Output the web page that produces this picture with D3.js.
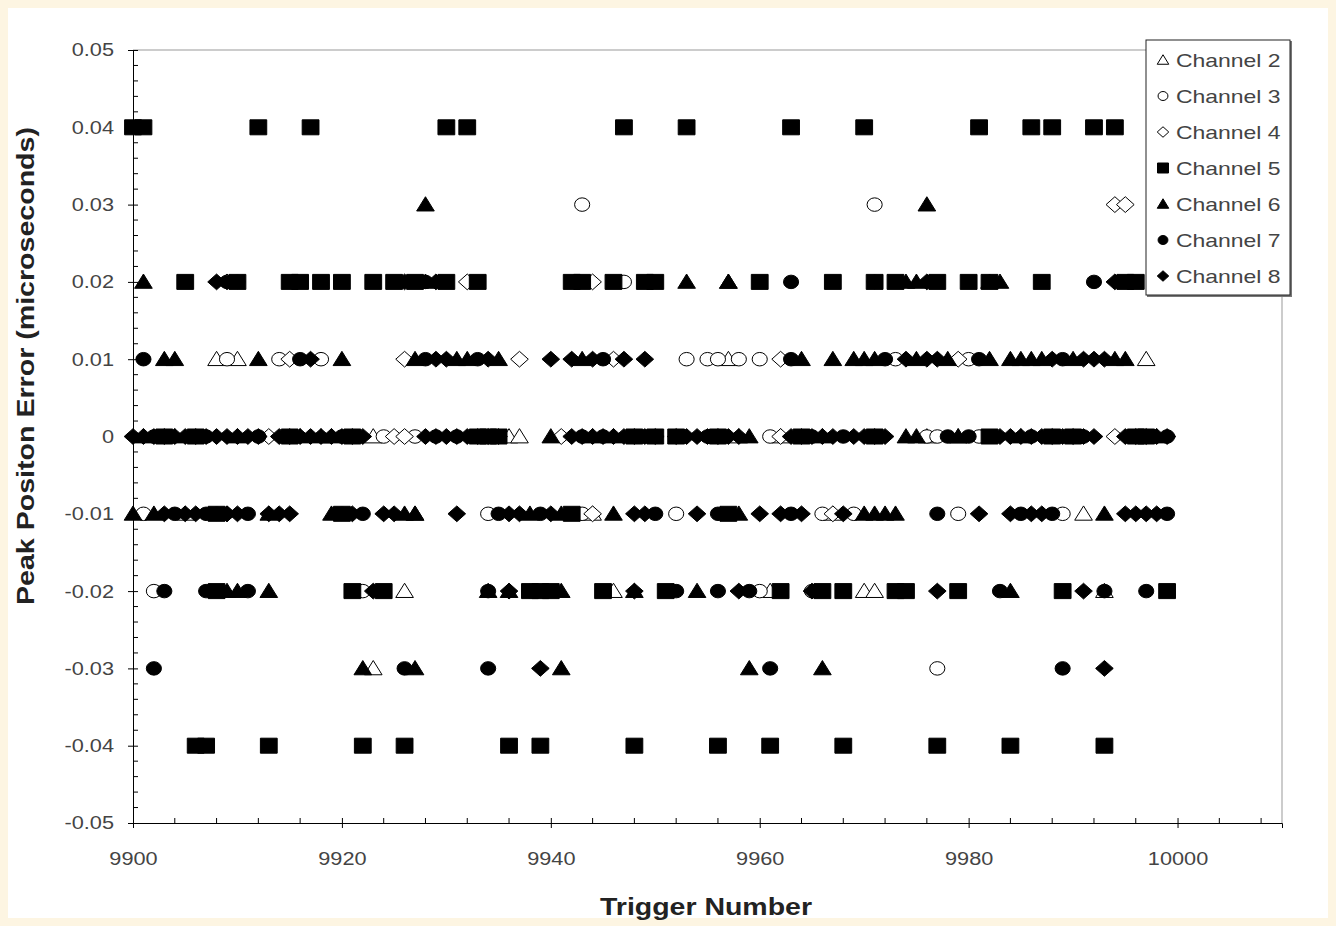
<!DOCTYPE html>
<html><head><meta charset="utf-8">
<script src="https://cdn.jsdelivr.net/npm/d3@7"></script>
<style>
html,body{margin:0;padding:0;background:#fdf5e2;}
svg{display:block;}
</style></head>
<body>
<svg id="chart" width="1336" height="926"></svg>
<script>
// ---------- DATA ----------
const xTicks = [9900, 9920, 9940, 9960, 9980, 10000];
const yTicks = [0.05, 0.04, 0.03, 0.02, 0.01, 0, -0.01, -0.02, -0.03, -0.04, -0.05];
const yTickLabels = ["0.05","0.04","0.03","0.02","0.01","0","-0.01","-0.02","-0.03","-0.04","-0.05"];
const seriesNames = ["Channel 2","Channel 3","Channel 4","Channel 5","Channel 6","Channel 7","Channel 8"];

// each channel: [value, [trigger numbers]]
const ch2 = [
  [0.02, [9957]],
  [0.01, [9908, 9910, 9957, 9997]],
  [0, [9923, 9936, 9937, 9958, 9962, 9976, 9979]],
  [-0.01, [9905, 9927, 9944, 9967, 9991]],
  [-0.02, [9926, 9946, 9961, 9970, 9971, 9993]],
  [-0.03, [9923]]
];
const ch3 = [
  [0.03, [9943, 9971]],
  [0.02, [9910, 9947]],
  [0.01, [9909, 9914, 9918, 9953, 9955, 9956, 9958, 9960, 9973, 9980]],
  [0, [9924, 9927, 9961, 9976, 9977, 9981]],
  [-0.01, [9901, 9908, 9920, 9934, 9943, 9952, 9966, 9969, 9979, 9989]],
  [-0.02, [9902, 9922, 9960, 9965]],
  [-0.03, [9977]]
];
const ch4 = [
  [0.03, [9994, 9995]],
  [0.02, [9909, 9932, 9944]],
  [0.01, [9915, 9926, 9937, 9946, 9962, 9979]],
  [0, [9913, 9925, 9926, 9941, 9962, 9994]],
  [-0.01, [9909, 9944, 9967]]
];
const ch5 = [
  [0.04, [9900, 9901, 9912, 9917, 9930, 9932, 9947, 9953, 9963, 9970, 9981, 9986, 9988, 9992, 9994]],
  [0.02, [9905, 9910, 9915, 9916, 9918, 9920, 9923, 9925, 9927, 9930, 9933, 9942, 9943, 9946, 9949, 9950, 9960, 9967, 9971, 9973, 9977, 9980, 9982, 9987, 9995, 9996]],
  [0, [9903, 9906, 9915, 9921, 9933, 9934, 9935, 9948, 9950, 9952, 9956, 9964, 9971, 9982, 9988, 9990, 9996, 9997]],
  [-0.01, [9908, 9920, 9942, 9957]],
  [-0.02, [9908, 9921, 9924, 9938, 9939, 9940, 9945, 9951, 9962, 9966, 9968, 9973, 9974, 9979, 9989, 9999]],
  [-0.04, [9906, 9907, 9913, 9922, 9926, 9936, 9939, 9948, 9956, 9961, 9968, 9977, 9984, 9993]]
];
const ch6 = [
  [0.03, [9928, 9976]],
  [0.02, [9901, 9928, 9953, 9957, 9974, 9975, 9982, 9983]],
  [0.01, [9903, 9904, 9912, 9920, 9927, 9931, 9932, 9935, 9943, 9964, 9967, 9969, 9970, 9971, 9975, 9978, 9982, 9984, 9985, 9986, 9987, 9990, 9994, 9995]],
  [0, [9901, 9904, 9910, 9916, 9918, 9919, 9940, 9944, 9946, 9959, 9966, 9974, 9975, 9979, 9985, 9998]],
  [-0.01, [9900, 9902, 9913, 9919, 9926, 9927, 9938, 9941, 9946, 9958, 9970, 9971, 9972, 9973, 9993]],
  [-0.02, [9909, 9910, 9913, 9934, 9936, 9941, 9948, 9954, 9984]],
  [-0.03, [9922, 9927, 9941, 9959, 9966]]
];
const ch7 = [
  [0.02, [9909, 9928, 9963, 9971, 9992]],
  [0.01, [9901, 9916, 9928, 9933, 9945, 9963, 9972, 9981, 9989]],
  [0, [9902, 9907, 9912, 9920, 9929, 9931, 9943, 9945, 9949, 9955, 9965, 9968, 9978, 9980, 9986, 9991, 9999]],
  [-0.01, [9904, 9907, 9911, 9922, 9935, 9939, 9950, 9956, 9963, 9977, 9985, 9988, 9999]],
  [-0.02, [9903, 9907, 9911, 9934, 9938, 9952, 9956, 9959, 9983, 9993, 9997]],
  [-0.03, [9902, 9926, 9934, 9961, 9989]]
];
const ch8 = [
  [0.02, [9908, 9926, 9929, 9976, 9994]],
  [0.01, [9917, 9929, 9930, 9934, 9940, 9942, 9944, 9947, 9949, 9974, 9976, 9977, 9988, 9991, 9992, 9993]],
  [0, [9900, 9901, 9902, 9903, 9904, 9905, 9906, 9907, 9908, 9909, 9910, 9911, 9912, 9914, 9915, 9916, 9917, 9918, 9919, 9920, 9921, 9922,
       9928, 9929, 9930, 9931, 9932, 9933, 9934, 9935, 9942, 9943, 9944, 9945, 9946, 9947, 9948, 9949, 9950,
       9952, 9953, 9954, 9955, 9956, 9957, 9958, 9963, 9964, 9965, 9966, 9967, 9969, 9970, 9971, 9972,
       9983, 9984, 9985, 9986, 9987, 9988, 9989, 9990, 9991, 9992, 9995, 9996, 9997, 9998, 9999]],
  [-0.01, [9903, 9905, 9906, 9909, 9910, 9913, 9914, 9915, 9921, 9924, 9925, 9931, 9936, 9937, 9940, 9948, 9949, 9954, 9960, 9962, 9964, 9968, 9981, 9984, 9986, 9987, 9995, 9996, 9997, 9998]],
  [-0.02, [9923, 9936, 9948, 9958, 9965, 9977, 9991]],
  [-0.03, [9939, 9993]]
];
const channels = [ch2, ch3, ch4, ch5, ch6, ch7, ch8];
const markerShapes = ["triangle","circle","diamond","square","triangle","circle","diamond"];
const markerFilled = [false, false, false, true, true, true, true];

// ---------- LAYOUT ----------
const svg = d3.select("#chart");
const W = 1336, H = 926;
const plot = {left: 133, right: 1282, top: 50, bottom: 823};
const FONT = "Liberation Sans, Arial, sans-serif";
const STRETCH = 1.24;

function stretchText(sel, factor) {
  sel.each(function() {
    const len = this.getComputedTextLength();
    d3.select(this).attr("textLength", len * factor).attr("lengthAdjust", "spacingAndGlyphs");
  });
}

svg.append("rect").attr("x", 8).attr("y", 8).attr("width", W - 16).attr("height", H - 16).attr("fill", "#ffffff");

const x = d3.scaleLinear().domain([9900, 10010]).range([plot.left, plot.right]);
const y = d3.scaleLinear().domain([-0.05, 0.05]).range([plot.bottom, plot.top]);

// plot area border (top/right gray)
svg.append("path")
  .attr("d", `M${plot.left},${plot.top}H${plot.right}V${plot.bottom}`)
  .attr("fill", "none").attr("stroke", "#999").attr("stroke-width", 1);

// y axis
const yAxis = d3.axisLeft(y).tickValues(yTicks).tickFormat((d, i) => yTickLabels[i]).tickSize(5).tickPadding(14);
const gy = svg.append("g").attr("transform", `translate(${plot.left},0)`).call(yAxis);
gy.select(".domain").attr("stroke", "#000");
gy.selectAll(".tick line").attr("stroke", "#000").attr("x2", -5).attr("x1", 5);
gy.selectAll(".tick text").attr("font-family", FONT).attr("font-size", 17.5).attr("fill", "#444").attr("dy", "0.34em");
stretchText(gy.selectAll(".tick text"), STRETCH);
// y minor ticks
const yMinor = d3.range(-0.05, 0.0501, 0.002).filter(v => Math.abs(Math.round(v * 100) - v * 100) > 1e-6);
svg.append("g").selectAll("line").data(yMinor).join("line")
  .attr("x1", plot.left).attr("x2", plot.left + 5)
  .attr("y1", d => y(d)).attr("y2", d => y(d)).attr("stroke", "#000");

// x axis
const xAxis = d3.axisBottom(x).tickValues(xTicks).tickFormat(d3.format("d")).tickSize(5).tickPadding(25);
const gx = svg.append("g").attr("transform", `translate(0,${plot.bottom})`).call(xAxis);
gx.select(".domain").attr("stroke", "#000");
gx.selectAll(".tick line").attr("stroke", "#000").attr("y1", -5).attr("y2", 5);
gx.selectAll(".tick text").attr("font-family", FONT).attr("font-size", 17.5).attr("fill", "#444");
stretchText(gx.selectAll(".tick text"), STRETCH);
const xMinor = d3.range(9904, 10011, 4).filter(v => (v - 9900) % 20 !== 0);
svg.append("g").selectAll("line").data(xMinor).join("line")
  .attr("x1", d => x(d)).attr("x2", d => x(d))
  .attr("y1", plot.bottom).attr("y2", plot.bottom - 5).attr("stroke", "#000");

// axis titles
const xt = svg.append("text").attr("x", 706).attr("y", 915)
  .attr("text-anchor", "middle").attr("font-family", FONT)
  .attr("font-size", 23).attr("font-weight", "bold").attr("fill", "#222").text("Trigger Number");
xt.attr("textLength", 212).attr("lengthAdjust", "spacingAndGlyphs");
const yt = svg.append("text").attr("transform", `translate(34,366) rotate(-90)`)
  .attr("text-anchor", "middle").attr("font-family", FONT)
  .attr("font-size", 23).attr("font-weight", "bold").attr("fill", "#222").text("Peak Positon Error (microseconds)");
yt.attr("textLength", 478).attr("lengthAdjust", "spacingAndGlyphs");

// ---------- MARKERS ----------
function shapePath(shape, s, sx) {
  const w = s * sx;
  if (shape === "square") return `M${-w},${-s}H${w}V${s}H${-w}Z`;
  if (shape === "triangle") return `M0,${-s * 1.05}L${w * 1.05},${s * 0.85}L${-w * 1.05},${s * 0.85}Z`;
  if (shape === "diamond") return `M0,${-s * 1.05}L${w * 1.05},0L0,${s * 1.05}L${-w * 1.05},0Z`;
  const r = s * 0.9, rx = w * 0.9;
  return `M${rx},0A${rx},${r} 0 1,1 ${-rx},0A${rx},${r} 0 1,1 ${rx},0Z`;
}
const markerSize = 7.5;
const markerStretch = 1.12;

const pts = svg.append("g");
channels.forEach((ch, ci) => {
  const data = [];
  ch.forEach(([v, trig]) => trig.forEach(t => data.push({t, v})));
  pts.append("g").selectAll("path").data(data).join("path")
    .attr("transform", d => `translate(${x(d.t)},${y(d.v)})`)
    .attr("d", shapePath(markerShapes[ci], markerSize, markerStretch))
    .attr("fill", markerFilled[ci] ? "#000" : "#fff")
    .attr("stroke", "#000").attr("stroke-width", 1);
});

// ---------- LEGEND ----------
const lg = svg.append("g").attr("transform", "translate(1146,40)");
lg.append("rect").attr("x", 1).attr("y", 1).attr("width", 145).attr("height", 256).attr("fill", "#777");
lg.append("rect").attr("x", 0).attr("y", 0).attr("width", 144).attr("height", 255)
  .attr("fill", "#fff").attr("stroke", "#222").attr("stroke-width", 1);
seriesNames.forEach((name, i) => {
  const cy = 20 + i * 36;
  lg.append("path").attr("transform", `translate(17,${cy})`)
    .attr("d", shapePath(markerShapes[i], 5, 1.1))
    .attr("fill", markerFilled[i] ? "#000" : "#fff").attr("stroke", "#000");
  const t = lg.append("text").attr("x", 30).attr("y", cy + 6.5)
    .attr("font-family", FONT).attr("font-size", 18.5).attr("fill", "#444").text(name);
  stretchText(t, STRETCH);
});
</script>
</body></html>
